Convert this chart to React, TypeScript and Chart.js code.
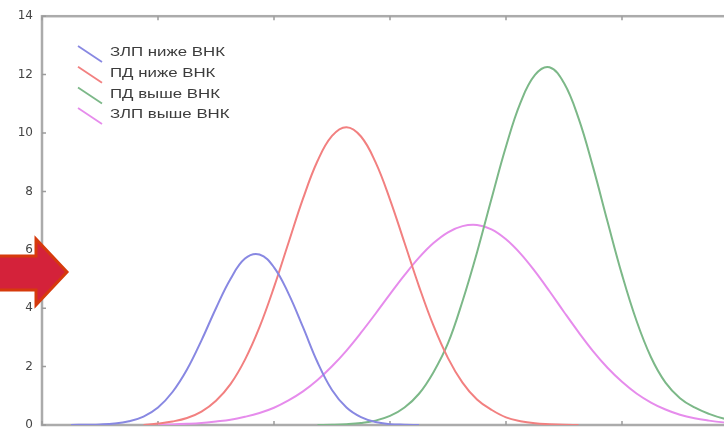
import React, { useEffect, useRef } from "react";
import { Chart, registerables } from "chart.js";

Chart.register(...registerables);

// x positions (arbitrary units, axis labels are cropped out of the picture)
const xValues = [
  0, 1, 2, 3, 4, 5, 6, 7, 8, 9, 10, 11, 12, 13, 14, 15, 16, 17, 18, 19, 20, 21, 22, 23, 24,
  25, 26, 27, 28, 29, 30, 31, 32, 33, 34, 35, 36, 37, 38, 39, 40, 41, 42, 43, 44, 45, 46, 47, 48,
];

const seriesLabels = ["ЗЛП ниже ВНК", "ПД ниже ВНК", "ПД выше ВНК", "ЗЛП выше ВНК"];

const bluePoints = [
  null, null, 0, 0.01, 0.02, 0.05, 0.13, 0.29, 0.6, 1.13, 1.9, 2.9, 4.0, 5.0, 5.7, 5.84, 5.4,
  4.5, 3.35, 2.15, 1.2, 0.6, 0.27, 0.1, 0.03, 0.01, 0, null, null, null, null, null, null, null,
  null, null, null, null, null, null, null, null, null, null, null, null, null, null, null,
];

const redPoints = [
  null, null, null, null, null, null, null, 0, 0.05, 0.12, 0.24, 0.46, 0.83, 1.4, 2.24, 3.35,
  4.72, 6.24, 7.75, 9.04, 9.9, 10.2, 9.88, 9.0, 7.72, 6.24, 4.75, 3.4, 2.29, 1.45, 0.87, 0.52,
  0.26, 0.13, 0.06, 0.03, 0.01, 0, null, null, null, null, null, null, null, null, null, null,
  null,
];

const greenPoints = [
  null, null, null, null, null, null, null, null, null, null, null, null, null, null, null, null,
  null, null, null, 0, 0.01, 0.03, 0.07, 0.15, 0.31, 0.6, 1.07, 1.81, 2.8, 4.24, 5.91, 7.75,
  9.54, 11.04, 11.99, 12.25, 11.71, 10.51, 8.84, 6.97, 5.15, 3.57, 2.32, 1.45, 0.92, 0.6, 0.38,
  0.22, 0.12,
];

const magentaPoints = [
  null, null, null, null, null, null, null, null, 0.01, 0.02, 0.04, 0.07, 0.12, 0.18, 0.28, 0.41,
  0.59, 0.84, 1.15, 1.54, 2.01, 2.55, 3.16, 3.81, 4.48, 5.13, 5.73, 6.23, 6.6, 6.81, 6.85, 6.7,
  6.36, 5.87, 5.26, 4.58, 3.87, 3.18, 2.53, 1.96, 1.48, 1.08, 0.77, 0.53, 0.35, 0.23, 0.15, 0.09,
  0.05,
];

const seriesColors = [
  "rgb(136,136,226)",
  "rgb(242,128,128)",
  "rgb(124,184,136)",
  "rgb(230,140,236)",
];

const yMin = 0;
const yMax = 14;
const yStep = 2;
const xMin = 0;
const xMax = 48;
const xStep = 8;

const toPoints = (arr: (number | null)[]) =>
  xValues.map((x, i) => ({ x, y: arr[i] }));

const framePlugin = {
  id: "frameTicks",
  beforeDatasetsDraw(chart: any) {
    const { ctx, chartArea: a, scales } = chart;
    ctx.save();
    ctx.strokeStyle = "#ababab";
    ctx.lineWidth = 2.5;
    ctx.strokeRect(a.left, a.top, a.right - a.left, a.bottom - a.top);
    ctx.strokeStyle = "#9c9c9c";
    ctx.lineWidth = 1.5;
    ctx.beginPath();
    scales.y.ticks.forEach((t: any) => {
      const y = scales.y.getPixelForValue(t.value);
      ctx.moveTo(a.left, y);
      ctx.lineTo(a.left + 4, y);
    });
    scales.x.ticks.forEach((t: any) => {
      const x = scales.x.getPixelForValue(t.value);
      ctx.moveTo(x, a.bottom);
      ctx.lineTo(x, a.bottom - 4);
      ctx.moveTo(x, a.top);
      ctx.lineTo(x, a.top + 4);
    });
    ctx.stroke();
    ctx.restore();
  },
};

const legendPlugin = {
  id: "customLegend",
  afterDatasetsDraw(chart: any) {
    const { ctx } = chart;
    ctx.save();
    ctx.font = '12px "Liberation Sans", Arial, sans-serif';
    ctx.textBaseline = "middle";
    ctx.fillStyle = "#3c3c3c";
    const w0 = ctx.measureText(seriesLabels[0]).width;
    const sx = 115 / w0;
    chart.data.datasets.forEach((ds: any, i: number) => {
      const cy = 53 + i * 20.7;
      ctx.strokeStyle = ds.borderColor;
      ctx.lineWidth = 1.8;
      ctx.beginPath();
      ctx.moveTo(78, cy - 7);
      ctx.lineTo(102, cy + 9);
      ctx.stroke();
      ctx.save();
      ctx.translate(110, cy);
      ctx.scale(sx, 1);
      ctx.fillText(ds.label, 0, 0);
      ctx.restore();
    });
    ctx.restore();
  },
};

const arrowPlugin = {
  id: "arrow",
  afterDraw(chart: any) {
    const { ctx } = chart;
    ctx.save();
    ctx.beginPath();
    ctx.moveTo(-5, 256);
    ctx.lineTo(36, 256);
    ctx.lineTo(36, 239);
    ctx.lineTo(67, 272);
    ctx.lineTo(36, 305);
    ctx.lineTo(36, 290);
    ctx.lineTo(-5, 290);
    ctx.closePath();
    ctx.fillStyle = "rgb(212,34,58)";
    ctx.fill();
    ctx.lineWidth = 3;
    ctx.lineJoin = "miter";
    ctx.strokeStyle = "rgb(214,58,12)";
    ctx.stroke();
    ctx.restore();
  },
};

export default function App() {
  const canvasRef = useRef<HTMLCanvasElement | null>(null);

  useEffect(() => {
    document.body.style.margin = "0";
    const canvas = canvasRef.current;
    if (!canvas) return;
    const seriesData = [bluePoints, redPoints, greenPoints, magentaPoints];
    const chart = new Chart(canvas, {
      type: "line",
      data: {
        datasets: seriesData.map((arr, i) => ({
          label: seriesLabels[i],
          data: toPoints(arr) as any,
          borderColor: seriesColors[i],
          backgroundColor: seriesColors[i],
          borderWidth: 2,
          pointRadius: 0,
          fill: false,
          tension: 0.4,
          spanGaps: false,
        })),
      },
      options: {
        responsive: false,
        animation: false,
        events: [],
        layout: { padding: { top: 12, right: 22, bottom: 0, left: 0 } },
        plugins: {
          legend: { display: false },
          tooltip: { enabled: false },
        },
        scales: {
          x: {
            type: "linear",
            min: xMin,
            max: xMax,
            ticks: { display: false, stepSize: xStep },
            grid: { display: false },
            border: { display: false },
            afterFit: (s: any) => {
              s.height = 35;
            },
          },
          y: {
            type: "linear",
            min: yMin,
            max: yMax,
            ticks: {
              stepSize: yStep,
              padding: 9,
              color: "#454545",
              font: { family: '"DejaVu Sans", sans-serif', size: 12 },
            },
            grid: { display: false, drawTicks: false },
            border: { display: false },
            afterFit: (s: any) => {
              s.width = 42;
            },
          },
        },
      },
      plugins: [framePlugin, legendPlugin, arrowPlugin],
    });
    return () => chart.destroy();
  }, []);

  return (
    <div
      style={{
        position: "fixed",
        left: 0,
        top: 0,
        width: 724,
        height: 428,
        overflow: "hidden",
        background: "#ffffff",
      }}
    >
      <canvas ref={canvasRef} width={760} height={460} style={{ display: "block" }} />
    </div>
  );
}
